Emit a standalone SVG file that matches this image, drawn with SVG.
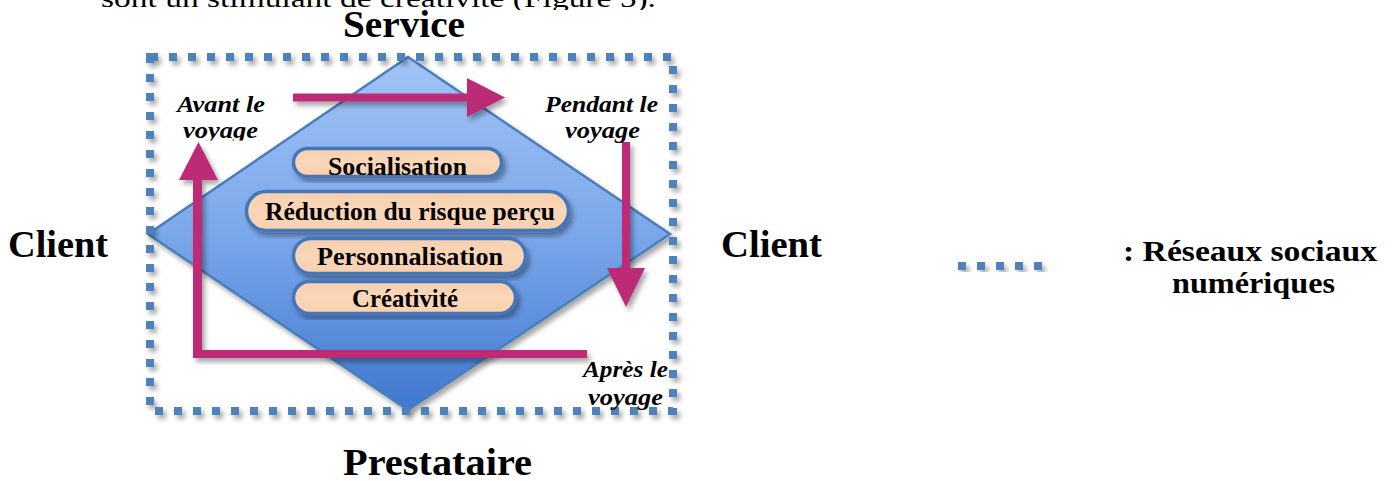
<svg xmlns="http://www.w3.org/2000/svg" width="1396" height="481" viewBox="0 0 1396 481">
<defs>
<style>
.h{font-family:"Liberation Serif","DejaVu Serif",serif;font-weight:bold;font-size:37px;fill:#000}
.p{font-family:"Liberation Serif","DejaVu Serif",serif;font-weight:bold;font-size:25px;fill:#000;text-anchor:middle}
.i{font-family:"Liberation Serif","DejaVu Serif",serif;font-weight:bold;font-style:italic;font-size:23px;fill:#000}
.pill{fill:url(#pg);stroke:#4476b8;stroke-width:3.5}
.arr{fill:#bd2a75}
.dots{fill:none;stroke:#4f81bd;stroke-width:8;stroke-dasharray:8 11}
</style>
<linearGradient id="dg" x1="0" y1="0" x2="0" y2="1">
<stop offset="0" stop-color="#a2c4f6"/>
<stop offset="0.5" stop-color="#7ba7ea"/>
<stop offset="1" stop-color="#3f78d0"/>
</linearGradient>
<linearGradient id="pg" x1="0" y1="0" x2="0" y2="1">
<stop offset="0" stop-color="#f6cfae"/>
<stop offset="0.5" stop-color="#fad7b9"/>
<stop offset="1" stop-color="#f8d0ae"/>
</linearGradient>
<filter id="sh" x="-20%" y="-20%" width="140%" height="140%">
<feDropShadow dx="3" dy="4" stdDeviation="2.5" flood-color="#000" flood-opacity="0.35"/>
</filter>
<clipPath id="clipAv"><rect x="170" y="115" width="110" height="25.5"/></clipPath>
<clipPath id="clipTop"><rect x="0" y="0" width="1396" height="10"/></clipPath>
</defs>

<text x="101" y="7" clip-path="url(#clipTop)" style="font-family:'Liberation Serif',serif;font-size:26px" textLength="555" lengthAdjust="spacingAndGlyphs">sont un stimulant de créativité (Figure 5).</text>

<g id="diamond">
<polygon points="408,57 670,234 408,410 148,234" fill="url(#dg)" stroke="#4a7ebb" stroke-width="2.5" filter="url(#sh)"/>
</g>

<g id="frame">
<rect x="150" y="57" width="523" height="354" class="dots" filter="url(#sh)"/>
</g>

<g id="pills">
<g id="socialisation">
<rect class="pill" x="293.5" y="148.5" width="208" height="28" rx="14" filter="url(#sh)"/>
<text class="p" x="397.5" y="175" textLength="139" lengthAdjust="spacingAndGlyphs">Socialisation</text>
</g>
<g id="reduction">
<rect class="pill" x="246.5" y="191.5" width="322" height="39" rx="19.5" filter="url(#sh)"/>
<text class="p" x="410" y="220" textLength="290" lengthAdjust="spacingAndGlyphs">Réduction du risque perçu</text>
</g>
<g id="personnalisation">
<rect class="pill" x="293.5" y="238.5" width="232" height="35" rx="17.5" filter="url(#sh)"/>
<text class="p" x="410" y="265" textLength="186" lengthAdjust="spacingAndGlyphs">Personnalisation</text>
</g>
<g id="creativite">
<rect class="pill" x="293.5" y="281.5" width="222" height="32" rx="16" filter="url(#sh)"/>
<text class="p" x="405" y="306.5" textLength="106" lengthAdjust="spacingAndGlyphs">Créativité</text>
</g>
</g>

<g id="connectors">
<polygon class="arr" filter="url(#sh)" points="293,93.5 467,93.5 467,78 505,97.5 467,117 467,101.5 293,101.5"/>
<polygon class="arr" filter="url(#sh)" points="622,142 630,142 630,268 645,268 626,307 607,268 622,268"/>
<polygon class="arr" filter="url(#sh)" points="193,180 179,180 198.5,142 218,180 202,180 202,350 587,350 587,358 193,358"/>
</g>

<g id="labels">
<text class="i" x="177" y="111.5" textLength="88" lengthAdjust="spacingAndGlyphs">Avant le</text>
<text class="i" x="183" y="138" textLength="75" lengthAdjust="spacingAndGlyphs" clip-path="url(#clipAv)">voyage</text>
<text class="i" x="545" y="111.5" textLength="113" lengthAdjust="spacingAndGlyphs">Pendant le</text>
<text class="i" x="565" y="138" textLength="75" lengthAdjust="spacingAndGlyphs">voyage</text>
<text class="i" x="583" y="376.5" textLength="85" lengthAdjust="spacingAndGlyphs">Après le</text>
<text class="i" x="588" y="405" textLength="75" lengthAdjust="spacingAndGlyphs">voyage</text>
</g>

<g id="service"><text class="h" x="343" y="37" textLength="122" lengthAdjust="spacingAndGlyphs">Service</text></g>
<g id="client-left"><text class="h" x="8" y="257" textLength="100" lengthAdjust="spacingAndGlyphs">Client</text></g>
<g id="client-right"><text class="h" x="721" y="257" textLength="101" lengthAdjust="spacingAndGlyphs">Client</text></g>
<g id="prestataire"><text class="h" x="343" y="475" textLength="189" lengthAdjust="spacingAndGlyphs">Prestataire</text></g>

<g id="legend">
<g fill="#4f81bd" filter="url(#sh)">
<rect x="958" y="262" width="8" height="8"/>
<rect x="977" y="262" width="8" height="8"/>
<rect x="996" y="262" width="8" height="8"/>
<rect x="1015" y="262" width="8" height="8"/>
<rect x="1034" y="262" width="8" height="8"/>
</g>
<text class="h" style="font-size:30px" x="1123" y="261" textLength="254" lengthAdjust="spacingAndGlyphs">: Réseaux sociaux</text>
<text class="h" style="font-size:30px" x="1172" y="293" textLength="163" lengthAdjust="spacingAndGlyphs">numériques</text>
</g>
</svg>
